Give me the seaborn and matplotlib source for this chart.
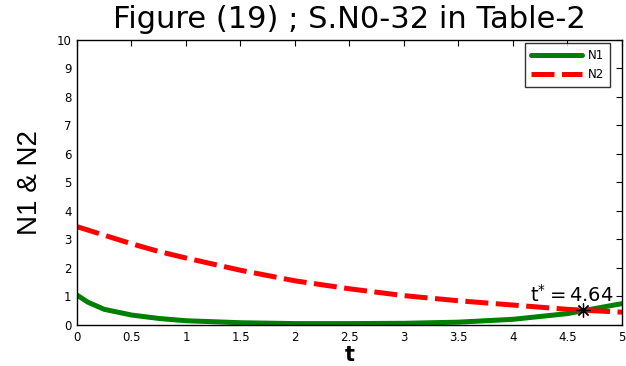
import numpy as np
import pandas as pd
import matplotlib
matplotlib.use("Agg")
import matplotlib.pyplot as plt
import seaborn as sns

# values
t = [0, 0.1, 0.25, 0.5, 0.75, 1, 1.5, 2, 2.5, 3, 3.5, 4, 4.5, 4.64, 5]
n1 = [1.05, 0.8, 0.55, 0.35, 0.23, 0.15, 0.08, 0.05, 0.05, 0.06, 0.1, 0.2, 0.4, 0.5, 0.75]
n2 = [3.45, 3.33, 3.15, 2.85, 2.58, 2.35, 1.92, 1.55, 1.27, 1.03, 0.85, 0.7, 0.55, 0.52, 0.45]
t_star = 4.64
n_star = 0.52
x_ticks = ["0", "0.5", "1", "1.5", "2", "2.5", "3", "3.5", "4", "4.5", "5"]

df = pd.DataFrame({"t": t, "N1": n1, "N2": n2})

sns.set_style("white")
plt.rcParams['font.family'] = ['DejaVu Sans']
plt.rcParams['text.color'] = 'black'
plt.rcParams['xtick.color'] = 'black'
plt.rcParams['ytick.color'] = 'black'
plt.rcParams['axes.labelcolor'] = 'black'

fig = plt.figure(figsize=(6.26, 3.66), dpi=100)
ax = fig.add_axes([0.123, 0.112, 0.8706, 0.779])

sns.lineplot(data=df, x="t", y="N1", ax=ax, color="#008000", linewidth=3.6, label="N1")
sns.lineplot(data=df, x="t", y="N2", ax=ax, color="#ff0000", linewidth=3.6,
             linestyle=(0, (4.6, 1.5)), label="N2")
ax.plot([t_star], [n_star], marker=(8, 2, 0), color="black", markersize=10,
        markeredgewidth=0.9, linestyle="none")
ax.text(4.155, 0.8, r"$\mathregular{t^{*}=4.64}$", fontsize=14, color="black")

ax.set_xlim(0, 5)
ax.set_ylim(0, 10)
ax.set_xticks(np.arange(0, 5.01, 0.5))
ax.set_xticklabels(x_ticks)
ax.set_yticks(range(0, 11))
ax.tick_params(direction="in", top=True, right=True, labelsize=8.5, length=4,
               width=0.8, pad=4)
for s in ax.spines.values():
    s.set_color("black")
    s.set_linewidth(1)

ax.set_title("Figure (19) ; S.N0-32 in Table-2", fontsize=22, pad=8.5)
ax.set_xlabel("t", fontsize=15, fontweight="bold", labelpad=1)
ax.set_ylabel("N1 & N2", fontsize=20, labelpad=10,
              family=['Liberation Sans Narrow', 'Liberation Sans'])

leg = ax.legend(loc="upper right", bbox_to_anchor=(0.978, 0.989), fontsize=8.5,
                frameon=True, fancybox=False, handlelength=4.3, handletextpad=0.5,
                borderpad=0.5, borderaxespad=0.0, labelspacing=0.55)
leg.get_frame().set_edgecolor("black")
leg.get_frame().set_linewidth(1)

fig.savefig("out.png", dpi=100)
